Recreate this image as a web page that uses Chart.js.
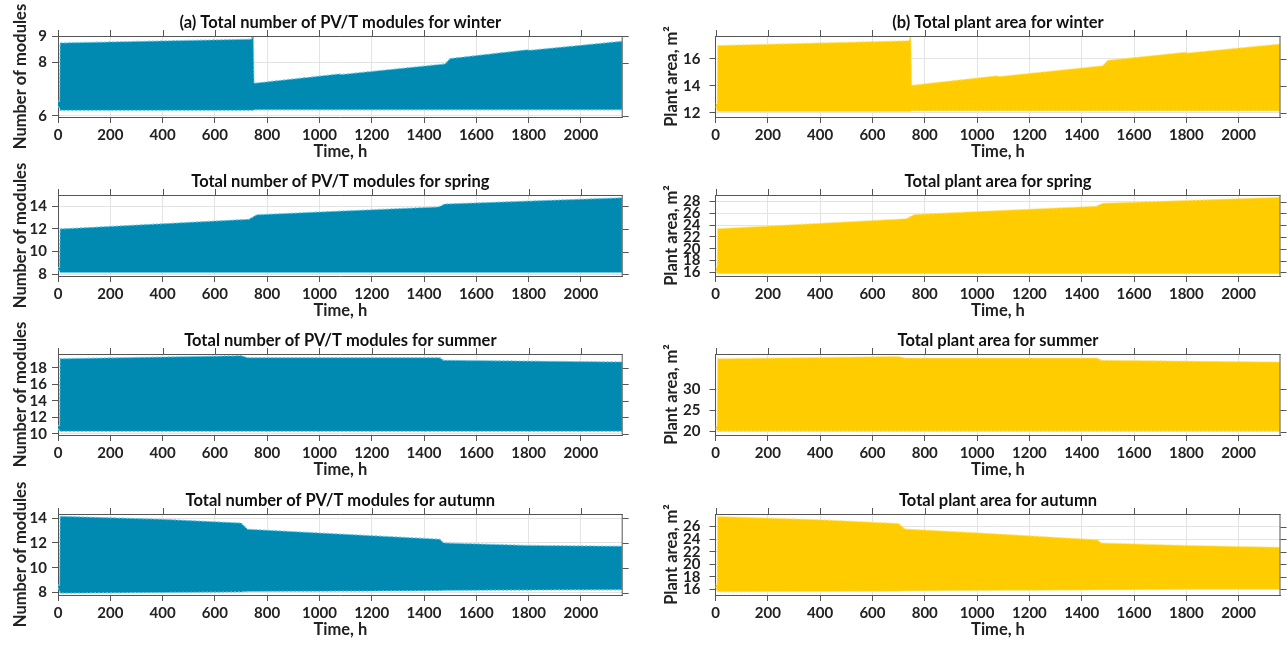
<!DOCTYPE html>
<html><head><meta charset="utf-8">
<script src="https://cdn.jsdelivr.net/npm/chart.js@4.4.0/dist/chart.umd.min.js"></script>
<style>
html,body{margin:0;padding:0;background:#fff;width:1287px;height:646px;overflow:hidden;position:relative}
canvas{position:absolute}
</style></head><body>
<script>
// ---------- data ----------
const xTicks = [0,200,400,600,800,1000,1200,1400,1600,1800,2000];

// (a) modules, winter
const winterModHours = [0, 6, 8, 740, 743, 747, 750, 1075, 1085, 1480, 1500, 1795, 1805, 2157];
const winterModUpper = [6.55, 6.55, 8.74, 8.88, 9.0, 9.0, 7.22, 7.57, 7.55, 7.95, 8.15, 8.48, 8.46, 8.80];
const winterModLower = [6.35, 6.3, 6.2, 6.2, 6.2, 6.2, 6.22, 6.22, 6.22, 6.22, 6.22, 6.22, 6.22, 6.22];
// (b) area, winter
const winterAreaHours = [0, 6, 8, 740, 743, 747, 750, 1075, 1085, 1480, 1500, 1795, 1805, 2157];
const winterAreaUpper = [12.7, 12.7, 17.0, 17.35, 17.6, 17.6, 14.05, 14.75, 14.7, 15.5, 15.9, 16.5, 16.45, 17.1];
const winterAreaLower = [12.5, 12.2, 12.1, 12.1, 12.1, 12.1, 12.15, 12.15, 12.15, 12.15, 12.15, 12.15, 12.15, 12.15];
// modules, spring
const springModHours = [0, 6, 8, 730, 760, 1000, 1455, 1480, 2157];
const springModUpper = [8.6, 8.6, 12.0, 12.85, 13.25, 13.5, 13.95, 14.2, 14.75];
const springModLower = [8.4, 8.3, 8.15, 8.15, 8.15, 8.15, 8.15, 8.15, 8.15];
// area, spring
const springAreaHours = [0, 6, 8, 730, 760, 1000, 1455, 1480, 2157];
const springAreaUpper = [16.8, 16.8, 23.4, 25.1, 25.8, 26.3, 27.2, 27.7, 28.7];
const springAreaLower = [16.3, 16.0, 15.8, 15.8, 15.8, 15.8, 15.8, 15.8, 15.8];
// modules, summer
const summerModHours = [0, 6, 8, 400, 700, 725, 1460, 1475, 2157];
const summerModUpper = [11.0, 11.0, 19.13, 19.33, 19.5, 19.25, 19.25, 18.93, 18.73];
const summerModLower = [10.6, 10.4, 10.3, 10.3, 10.3, 10.3, 10.3, 10.3, 10.3];
// area, summer
const summerAreaHours = [0, 6, 8, 400, 700, 725, 1460, 1475, 2157];
const summerAreaUpper = [21.3, 21.3, 37.2, 37.5, 37.7, 37.35, 37.35, 36.8, 36.4];
const summerAreaLower = [20.8, 20.3, 20.1, 20.1, 20.1, 20.1, 20.1, 20.1, 20.1];
// modules, autumn
const autumnModHours = [0, 6, 8, 400, 700, 725, 1000, 1460, 1475, 1800, 2157];
const autumnModUpper = [8.6, 8.6, 14.14, 13.9, 13.6, 13.1, 12.8, 12.3, 12.0, 11.8, 11.73];
const autumnModLower = [8.4, 8.1, 7.95, 8.0, 8.05, 8.08, 8.1, 8.15, 8.17, 8.2, 8.22];
// area, autumn
const autumnAreaHours = [0, 6, 8, 400, 700, 725, 1000, 1460, 1475, 1800, 2157];
const autumnAreaUpper = [16.8, 16.8, 27.6, 27.1, 26.5, 25.6, 25.0, 23.9, 23.4, 23.0, 22.7];
const autumnAreaLower = [16.5, 15.8, 15.6, 15.65, 15.7, 15.75, 15.8, 15.9, 15.9, 16.0, 16.0];

// y tick labels per panel
const winterModTicks = [6, 8, 9];
const winterAreaTicks = [12, 14, 16];
const springModTicks = [8, 10, 12, 14];
const springAreaTicks = [16, 18, 20, 22, 24, 26, 28];
const summerModTicks = [10, 12, 14, 16, 18];
const summerAreaTicks = [20, 25, 30];
const autumnModTicks = [8, 10, 12, 14];
const autumnAreaTicks = [16, 18, 20, 22, 24, 26];

// ---------- layout ----------
const BLUE = '#0089b1', YELLOW = '#ffcc00';
const rowTop = [35.7, 194.5, 353.5, 513.5];
const PLOT_H = 81;
const cols = [
  {left: 0, width: 640, axisW: 58, padR: 17.3, yTitle: 'Number of modules', yTitlePad: 11, tickPad: 5, color: BLUE, edge: '#5ccbe8'},
  {left: 645, width: 642, axisW: 70.5, padR: 6.5, yTitle: 'Plant area, m\u00B2', yTitlePad: 16.5, tickPad: 9, color: YELLOW, edge: '#ffe47a'}
];

const panels = [
  {row:0,col:0,title:'(a) Total number of PV/T modules for winter',h:winterModHours,u:winterModUpper,l:winterModLower,t:winterModTicks,min:5.95,max:9.0},
  {row:0,col:1,title:'(b) Total plant area for winter',h:winterAreaHours,u:winterAreaUpper,l:winterAreaLower,t:winterAreaTicks,min:11.7,max:17.7},
  {row:1,col:0,title:'Total number of PV/T modules for spring',h:springModHours,u:springModUpper,l:springModLower,t:springModTicks,min:7.85,max:15.0},
  {row:1,col:1,title:'Total plant area for spring',h:springAreaHours,u:springAreaUpper,l:springAreaLower,t:springAreaTicks,min:15.4,max:29.1},
  {row:2,col:0,title:'Total number of PV/T modules for summer',h:summerModHours,u:summerModUpper,l:summerModLower,t:summerModTicks,min:9.85,max:19.7},
  {row:2,col:1,title:'Total plant area for summer',h:summerAreaHours,u:summerAreaUpper,l:summerAreaLower,t:summerAreaTicks,min:19.2,max:38.3},
  {row:3,col:0,title:'Total number of PV/T modules for autumn',h:autumnModHours,u:autumnModUpper,l:autumnModLower,t:autumnModTicks,min:7.8,max:14.33},
  {row:3,col:1,title:'Total plant area for autumn',h:autumnAreaHours,u:autumnAreaUpper,l:autumnAreaLower,t:autumnAreaTicks,min:15.1,max:28.0}
];

const FONT = 'Lato, "Open Sans", sans-serif';
const AXC = '#555';
const TITLE_SIZE = 16.5;

const boxPlugin = {
  id: 'boxTicks',
  afterDraw(chart) {
    const {ctx, chartArea: a, scales: {x, y}} = chart;
    ctx.save();
    ctx.strokeStyle = AXC; ctx.lineWidth = 1;
    ctx.beginPath();
    ctx.moveTo(a.left, a.top + 0.5); ctx.lineTo(a.right, a.top + 0.5);
    ctx.moveTo(a.right - 0.5, a.top); ctx.lineTo(a.right - 0.5, a.bottom);
    x.ticks.forEach(t => { const px = Math.round(x.getPixelForValue(t.value)) + 0.5; ctx.moveTo(px, a.top); ctx.lineTo(px, a.top - 6); });
    y.ticks.forEach(t => { const py = Math.round(y.getPixelForValue(t.value)) + 0.5; ctx.moveTo(a.right, py); ctx.lineTo(a.right + 6, py); });
    ctx.stroke();
    ctx.restore();
  }
};

panels.forEach(p => {
  const c = cols[p.col];
  const cv = document.createElement('canvas');
  const titleBox = 35;
  const top = rowTop[p.row] - titleBox;
  const H = titleBox + PLOT_H + 48;
  cv.width = c.width; cv.height = H;
  cv.style.left = c.left + 'px'; cv.style.top = top + 'px';
  cv.style.width = c.width + 'px'; cv.style.height = H + 'px';
  document.body.appendChild(cv);
  const lower = p.h.map((hv, i) => ({x: hv, y: p.l[i]}));
  const upper = p.h.map((hv, i) => ({x: hv, y: p.u[i]}));
  const tLH = TITLE_SIZE * 1.2;
  const tTop = 12;
  new Chart(cv, {
    type: 'line',
    data: { datasets: [
      {data: lower, borderColor: c.edge, borderWidth: 1.2, borderDash: [2, 2], pointRadius: 0, fill: false, tension: 0},
      {data: upper, borderColor: c.edge, borderWidth: 1.2, borderDash: [2, 2], pointRadius: 0, fill: '-1', backgroundColor: c.color, tension: 0}
    ]},
    options: {
      responsive: false, animation: false, devicePixelRatio: 1,
      layout: {padding: {left: 0, right: c.padR, top: 0, bottom: 0}},
      plugins: {
        legend: {display: false}, tooltip: {enabled: false},
        title: {display: true, fullSize: false, text: p.title, color: '#111',
                font: {family: FONT, size: TITLE_SIZE, weight: 'bold', lineHeight: 1.2},
                padding: {top: tTop, bottom: titleBox - tTop - tLH}}
      },
      scales: {
        x: {
          type: 'linear', min: 0, max: 2160,
          afterBuildTicks: s => { s.ticks = xTicks.map(v => ({value: v})); },
          afterFit: s => { s.height = 48; },
          grid: {color: '#e4e4e4', lineWidth: 1, drawTicks: true, tickLength: 6, tickColor: AXC},
          border: {display: true, color: AXC, width: 1},
          ticks: {color: '#222', font: {family: FONT, size: 15, weight: 'bold'}, padding: 3, maxRotation: 0, autoSkip: false,
                  callback: v => String(v)},
          title: {display: true, text: 'Time, h', color: '#222', font: {family: FONT, size: TITLE_SIZE, weight: 'bold', lineHeight: 1.2}, padding: {top: 0, bottom: 3}}
        },
        y: {
          type: 'linear', min: p.min, max: p.max,
          afterBuildTicks: s => { s.ticks = p.t.map(v => ({value: v})); },
          afterFit: s => { s.width = c.axisW; },
          grid: {color: '#e4e4e4', lineWidth: 1, drawTicks: true, tickLength: 6, tickColor: AXC},
          border: {display: true, color: AXC, width: 1},
          ticks: {color: '#222', font: {family: FONT, size: 15, weight: 'bold'}, padding: c.tickPad, autoSkip: false,
                  callback: v => String(v)},
          title: {display: true, text: c.yTitle, color: '#222', font: {family: FONT, size: TITLE_SIZE, weight: 'bold', lineHeight: 1.2}, padding: {top: c.yTitlePad, bottom: 0}}
        }
      }
    },
    plugins: [boxPlugin]
  });
});
</script>
</body></html>
